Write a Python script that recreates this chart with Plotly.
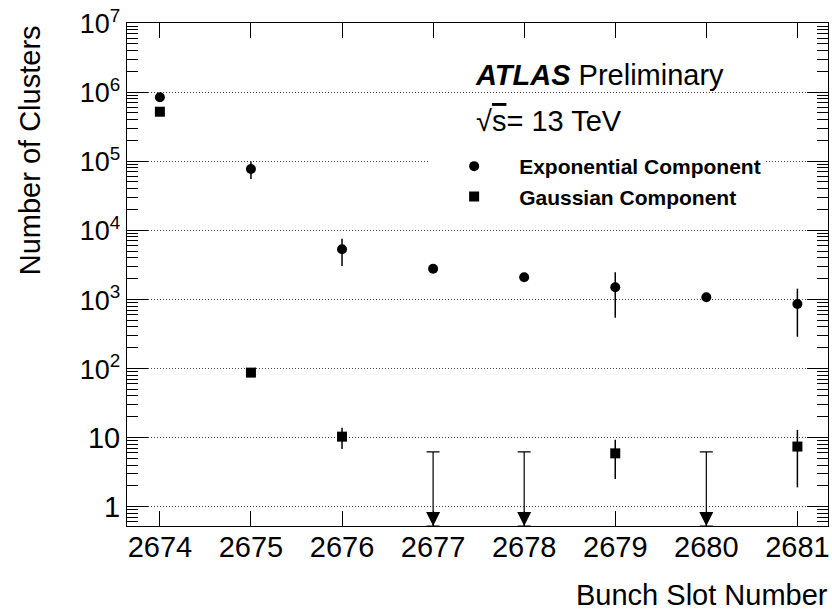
import numpy as np
import plotly.graph_objects as go

# ---- data -------------------------------------------------------------
bunch_slots = [2674, 2675, 2676, 2677, 2678, 2679, 2680, 2681]
x_tick_labels = ["2674", "2675", "2676", "2677", "2678", "2679", "2680", "2681"]

# exponential component, fitted in every bunch slot
exp_values = [8.4e5, 7.7e4, 5300, 2780, 2090, 1500, 1070, 857]
exp_errors = [6.0e4, 2.2e4, 2250, 250, 180, 960, 90, 570]

# gaussian component, slots with a measured yield
gaus_slots = [2674, 2675, 2676, 2679, 2681]
gaus_values = [5.2e5, 87, 10.3, 5.9, 7.4]
gaus_errors = [4.0e4, 9, 3.5, 3.4, 5.5]

# gaussian component, slots with only an upper limit
ul_slots = [2677, 2678, 2680]
ul_values = [6.2, 6.2, 6.2]

y_tick_vals = [1, 10, 1e2, 1e3, 1e4, 1e5, 1e6, 1e7]
y_tick_text = ["1", "10"] + [
    "<span style='font-size:27px'>10<sup>%d</sup></span>" % k for k in range(2, 8)
]

# ---- axis settings --------------------------------------------------------
FONT = "Liberation Sans, Arial, Helvetica, sans-serif"
Y_LOG_MIN, Y_LOG_MAX = np.log10(0.524), 7.0
X_MIN, X_MAX = 2673.639, 2681.336
y_floor = 10 ** Y_LOG_MIN

minor_vals = [m * 10.0 ** d for d in range(-1, 7) for m in range(2, 10)]
minor_vals = [v for v in minor_vals if y_floor < v < 1e7]

fig = go.Figure()

fig.add_trace(go.Scatter(
    x=bunch_slots, y=exp_values, mode="markers",
    name="Exponential Component",
    marker=dict(symbol="circle", size=10, color="black", line=dict(width=0)),
    error_y=dict(type="data", array=exp_errors, visible=True,
                 color="black", thickness=1.5, width=0),
))

fig.add_trace(go.Scatter(
    x=gaus_slots, y=gaus_values, mode="markers",
    name="Gaussian Component",
    marker=dict(symbol="square", size=10, color="black", line=dict(width=0)),
    error_y=dict(type="data", array=gaus_errors, visible=True,
                 color="black", thickness=1.5, width=0),
))

# upper limits: bar from the limit down to the axis floor, capped at the top
fig.add_trace(go.Scatter(
    x=ul_slots, y=ul_values, mode="markers", showlegend=False,
    marker=dict(size=2, color="rgba(0,0,0,0)", line=dict(width=0)),
    error_y=dict(type="data", symmetric=False,
                 array=[0] * len(ul_values),
                 arrayminus=[v - y_floor for v in ul_values],
                 color="black", thickness=1.2, width=6.5),
    hoverinfo="skip",
))
fig.add_trace(go.Scatter(
    x=ul_slots, y=[y_floor] * len(ul_slots), mode="markers", showlegend=False,
    marker=dict(symbol="arrow-down", size=14, color="black", line=dict(width=0)),
    cliponaxis=False, hoverinfo="skip",
))

axis_common = dict(
    showline=True, linecolor="black", linewidth=1, mirror="allticks",
    ticks="inside", tickcolor="black", tickwidth=1,
    zeroline=False,
)

fig.update_xaxes(
    range=[X_MIN, X_MAX],
    tickmode="array", tickvals=bunch_slots, ticktext=x_tick_labels,
    ticklen=15, showgrid=False, ticklabelstandoff=-5,
    tickfont=dict(family=FONT, size=29, color="black"),
    **axis_common,
)

fig.update_yaxes(
    type="log", range=[Y_LOG_MIN, Y_LOG_MAX],
    tickmode="array", tickvals=y_tick_vals, ticktext=y_tick_text,
    ticklen=21,
    showgrid=True, gridcolor="#444444", gridwidth=1, griddash="1px,2px",
    minor=dict(tickmode="array", tickvals=minor_vals, ticks="inside",
               ticklen=11, tickcolor="black", tickwidth=1, showgrid=False),
    tickfont=dict(family=FONT, size=29, color="black"),
    **axis_common,
)

fig.update_layout(
    width=832, height=613, autosize=False,
    margin=dict(l=127, r=2, t=23, b=87, pad=0),
    paper_bgcolor="white", plot_bgcolor="white",
    font=dict(family=FONT, color="black"),
    showlegend=True,
    legend=dict(
        x=0.431, y=0.7555, xanchor="left", yanchor="top",
        bgcolor="white", borderwidth=0, itemwidth=80,
        font=dict(family=FONT, size=21, color="black", weight="bold"),
        tracegroupgap=0,
    ),
    annotations=[
        dict(text="<b><i>ATLAS</i></b> Preliminary", xref="paper", yref="paper",
             x=0.4936, y=0.8966, xanchor="left", yanchor="middle", showarrow=False,
             font=dict(family=FONT, size=29, color="black")),
        dict(text="√<span style='text-decoration:overline'>s</span>= 13 TeV",
             xref="paper", yref="paper",
             x=0.4950, y=0.8042, xanchor="left", yanchor="middle", showarrow=False,
             font=dict(family=FONT, size=29, color="black")),
        dict(text="Bunch Slot Number", xref="paper", yref="paper",
             x=1.003, y=-0.1725, xanchor="right", yanchor="bottom", showarrow=False,
             font=dict(family=FONT, size=29, color="black")),
        dict(text="Number of Clusters", xref="paper", yref="paper", textangle=-90,
             x=-0.138, y=1.0, xanchor="center", yanchor="top", showarrow=False,
             font=dict(family=FONT, size=29, color="black")),
    ],
)

fig.write_html("out.html")
